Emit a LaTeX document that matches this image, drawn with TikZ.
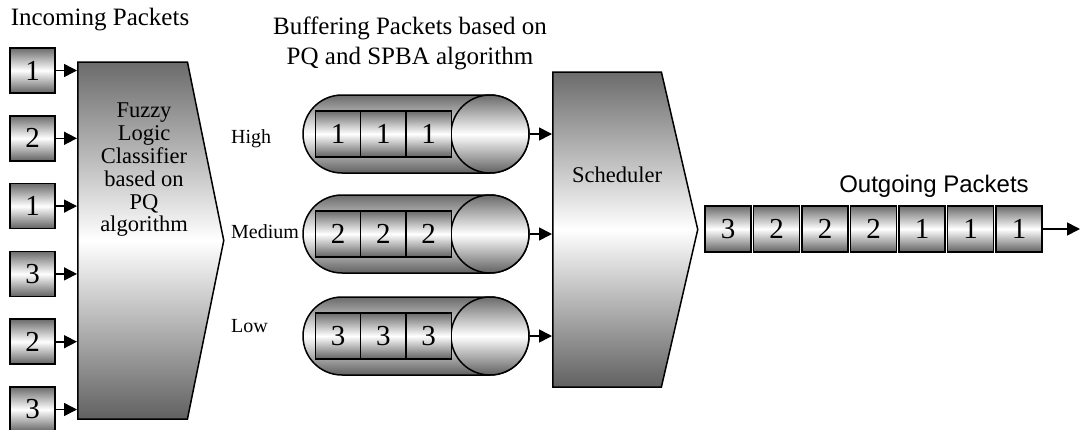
\documentclass[tikz,border=0pt]{standalone}
\usepackage{fontspec}
\setmainfont{Liberation Serif}
\newfontfamily\arialfont{Liberation Sans}
\usetikzlibrary{shapes.symbols, arrows.meta, positioning, calc}

\tikzset{
  grad/.style={top color=black!58, bottom color=black!62, middle color=white},
  pkt/.style={draw, line width=1.5pt, grad, inner sep=0pt, minimum width=45pt, minimum height=45pt, font=\fontsize{29}{29}\selectfont},
  cell/.style={pkt, minimum width=45.3pt, minimum height=46pt},
  stage/.style={signal, signal to=east, draw, line width=1.5pt, grad, inner sep=0pt, anchor=west},
  qbody/.style={draw, line width=1.5pt, grad, rounded corners=39pt, minimum width=226pt, minimum height=78pt, inner sep=0pt},
  qend/.style={circle, draw, line width=1.5pt, grad, minimum size=78pt, inner sep=0pt},
  pkarrow/.style={-{Triangle[length=13pt,width=13pt]}, line width=1.6pt},
  title/.style={font=\fontsize{25}{30}\selectfont},
  lbl/.style={font=\fontsize{20}{20}\selectfont, anchor=west, inner sep=0pt}
}

\begin{document}
\begin{tikzpicture}[x=1pt, y=-1pt]
\useasboundingbox (0,0) rectangle (1081,429);

% titles
\node[title] (intitle) at (100,20) {Incoming Packets};
\node[title, align=center] (buftitle) at (410,43) {Buffering Packets based on\\PQ and SPBA algorithm};
\node[font=\arialfont\fontsize{24}{24}\selectfont] (outtitle) at (934,186) {Outgoing Packets};

% classifier and scheduler
\node[stage, minimum width=146pt, minimum height=357pt, signal pointer angle=157] (clf) at (77,240.5) {};
\node[align=center, font=\fontsize{22.5}{22.8}\selectfont] (clftxt) at (144,170) {Fuzzy\\Logic\\Classifier\\based on\\PQ\\algorithm};
\node[stage, minimum width=145pt, minimum height=315pt, signal pointer angle=154] (sch) at (552,229.5) {};
\node[font=\fontsize{22.5}{22.5}\selectfont] (schtxt) at (617,175) {Scheduler};

% incoming packets
\foreach \i/\n in {1/1,2/2,3/1,4/3,5/2,6/3}{
\node[pkt] (in\i) at (32.5,{70.5+67.8*(\i-1)}) {\n};
\draw[pkarrow] (in\i.east) -- (in\i.east -| clf.west);
}

% priority queues
\foreach \r/\y/\n/\lab/\ly in {1/134/1/High/139, 2/234/2/Medium/232, 3/336/3/Low/326}{
\node[qbody] (q\r) at (416,\y) {};
\node[qend] (e\r) at (490,\y) {};
\foreach \c in {1,2,3}{
\node[cell] (c\r\c) at ({338+45.3*(\c-1)},\y) {\n};
}
\node[lbl] (l\r) at (231,\ly) {\lab};
\draw[pkarrow] (e\r.east) -- (e\r.east -| sch.west);
}

% outgoing packets
\foreach \n [count=\i] in {3,2,2,2,1,1,1}{
\node[pkt, minimum width=46pt, minimum height=46pt] (out\i) at ({728+48.5*(\i-1)},229) {\n};
}
\coordinate (exit) at (1080,229);
\draw[pkarrow] (out7.east) -- (exit);
\end{tikzpicture}
\end{document}
